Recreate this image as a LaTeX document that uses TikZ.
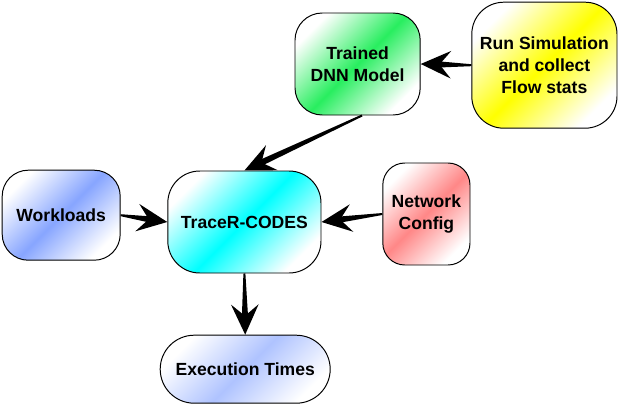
\documentclass[tikz,border=0pt]{standalone}
\usepackage{fontspec}
\setmainfont{Liberation Sans}
\usetikzlibrary{arrows.meta,calc,shapes.misc}

\definecolor{dnngreen}{RGB}{40,238,95}
\definecolor{simyellow}{RGB}{255,255,0}
\definecolor{workblue}{RGB}{135,165,255}
\definecolor{tracecyan}{RGB}{0,255,255}
\definecolor{netred}{RGB}{255,135,135}
\definecolor{execblue}{RGB}{175,195,255}

% tapered connector with a swept head
\newcommand{\flowarrow}[2]{%
    \coordinate (m) at ($(#2)!0.45cm!(#1)$);
    \fill ($(#1)!0.7pt!90:(#2)$) -- ($(m)!2.2pt!90:(#2)$)
        -- ($(m)!2.2pt!-90:(#2)$) -- ($(#1)!0.7pt!-90:(#2)$) -- cycle;
    \draw[flow] (m) -- (#2);
}

\begin{document}
\begin{tikzpicture}[
        box/.style={draw, line width=0.7pt, rounded corners=#1,
            inner sep=0pt, align=center,
            font=\fontsize{12.5}{15.6}\selectfont\bfseries},
        fade/.style={top color=white, bottom color=white,
            middle color=#1, shading angle=45},
        flow/.style={-{Stealth[length=0.75cm,width=0.68cm,inset=0.28cm]},
            line width=3pt}
    ]

        \useasboundingbox (0,0) rectangle (15.5,-10.125);

        % Blocchi superiori
        \node[box=0.68cm, fade=dnngreen, minimum width=3.13cm, minimum height=2.55cm]
            (dnn) at (8.94,-1.6) {Trained\\DNN Model};

        \node[box=0.8cm, fade=simyellow, minimum width=3.63cm, minimum height=3.15cm]
            (runsim) at (13.61,-1.63) {Run Simulation\\and collect\\Flow stats};

        % Riga centrale
        \node[box=0.65cm, fade=workblue, minimum width=2.95cm, minimum height=2.25cm]
            (work) at (1.53,-5.38) {Workloads};

        \node[box=0.8cm, fade=tracecyan, minimum width=3.83cm, minimum height=2.55cm]
            (tracer) at (6.11,-5.55) {TraceR-CODES};

        \node[box=0.55cm, fade=netred, minimum width=2.18cm, minimum height=2.55cm]
            (netcfg) at (10.66,-5.35) {Network\\Config};

        % Uscita
        \node[box=0pt, rounded rectangle, fade=execblue, minimum width=4.25cm, minimum height=1.7cm]
            (exec) at (6.13,-9.23) {Execution Times};

        % Frecce
        \flowarrow{runsim.west}{dnn.east}
        \flowarrow{dnn.-85}{tracer.north}
        \flowarrow{work.east}{tracer.west}
        \flowarrow{netcfg.west}{tracer.east}
        \flowarrow{tracer.south}{exec.north}

    \end{tikzpicture}
\end{document}
